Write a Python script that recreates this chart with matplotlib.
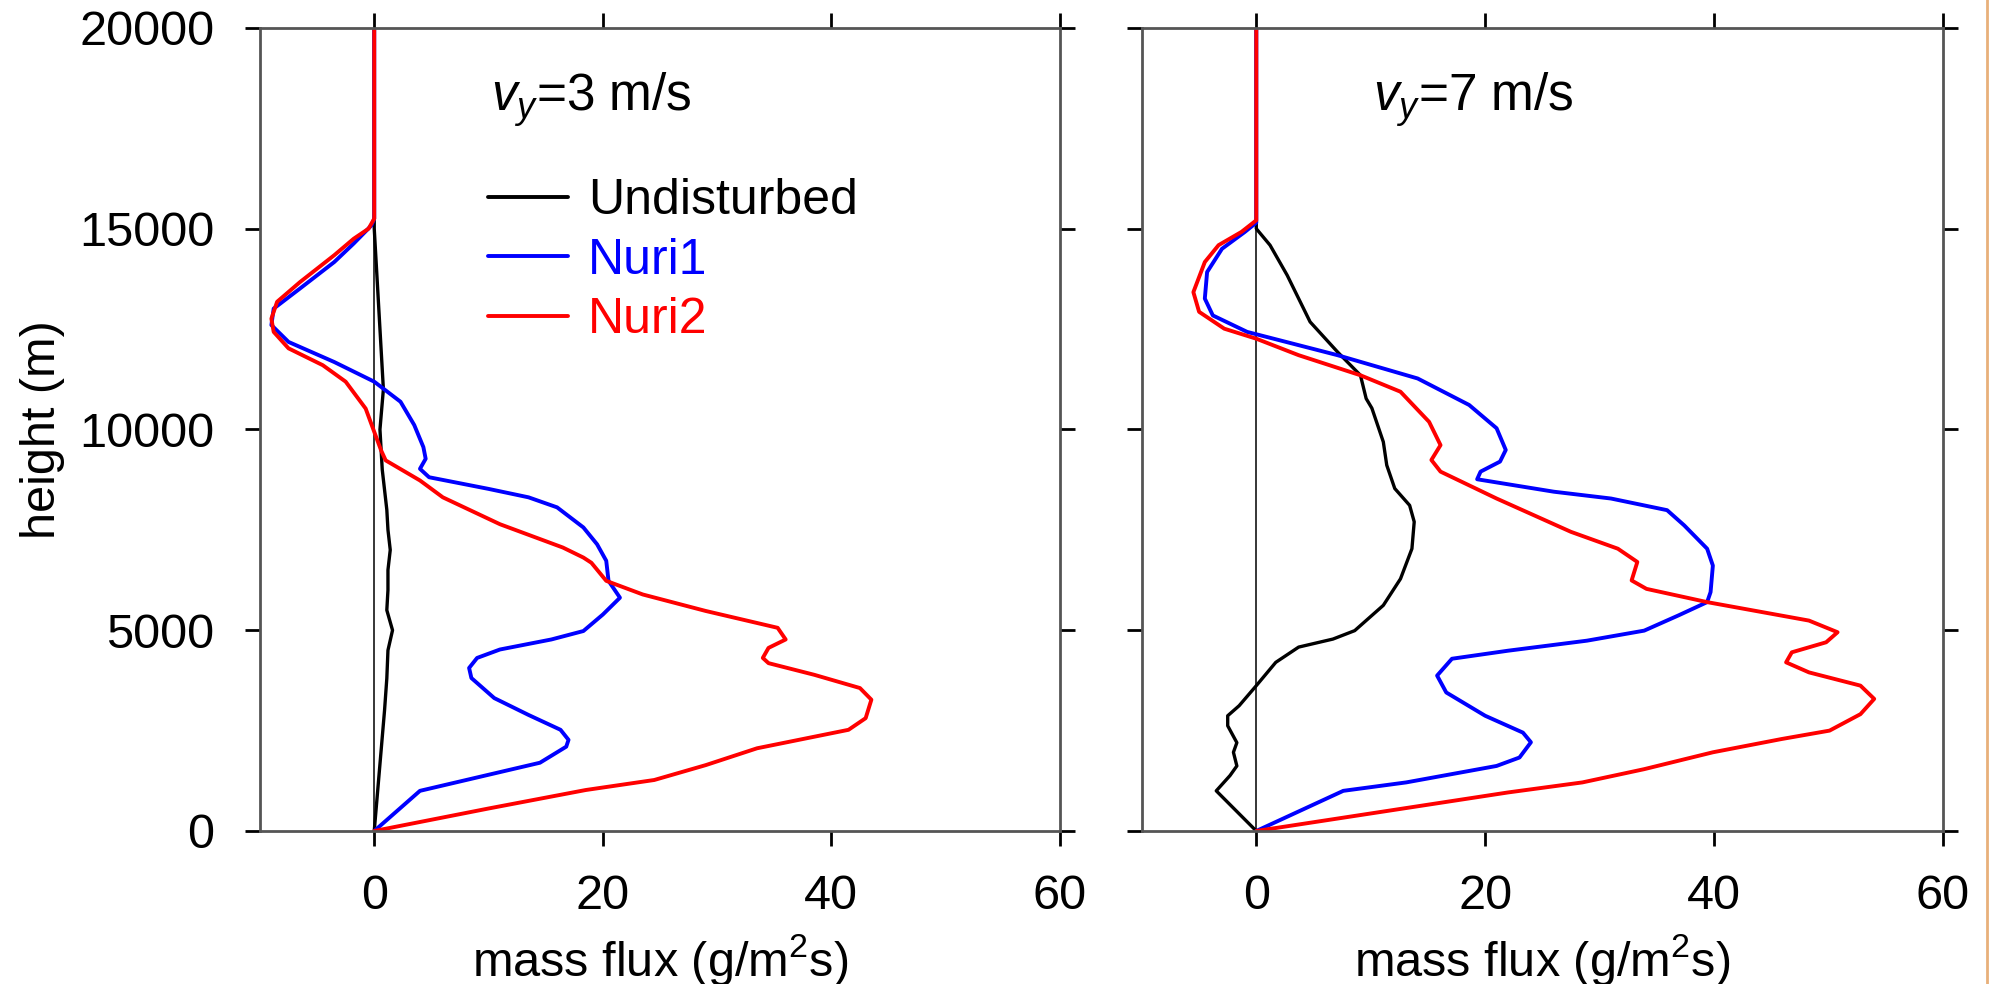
import matplotlib
matplotlib.use("Agg")
import matplotlib.pyplot as plt
from matplotlib.lines import Line2D

plt.rcParams['font.family'] = ['Liberation Sans', 'DejaVu Sans']
plt.rcParams['mathtext.fontset'] = 'custom'
plt.rcParams['mathtext.rm'] = 'Liberation Sans'
plt.rcParams['mathtext.it'] = 'Liberation Sans:italic'

# ---------------- data ----------------
series_names = ["Undisturbed", "Nuri1", "Nuri2"]
panel_titles = [r"$v_y$=3 m/s", r"$v_y$=7 m/s"]
x_ticks = [0, 20, 40, 60]
y_ticks = [0, 5000, 10000, 15000, 20000]

# panel 1 (vy = 3 m/s)
p1_und_h = [0, 1000, 2000, 3000, 3800, 4500, 5000, 5500, 6000, 6500, 7000, 7500, 8000,
            8500, 9000, 10000, 11000, 12000, 13000, 14000, 15000, 20000]
p1_und_x = [0, 0.3, 0.6, 0.9, 1.1, 1.2, 1.6, 1.1, 1.2, 1.2, 1.4, 1.2, 1.1,
            0.9, 0.7, 0.5, 0.8, 0.6, 0.4, 0.2, 0, 0]

p1_n1_h = [0, 1000, 1700, 2100, 2270, 2520, 2890, 3310, 3810, 4060, 4310, 4520, 4770,
           4980, 5390, 5810, 6230, 6730, 7140, 7560, 8060, 8310, 8520, 8810, 9020, 9270,
           9560, 10110, 10690, 11190, 11680, 12180, 12600, 13010, 13510, 14170, 14630,
           15080, 15250, 20000]
p1_n1_x = [0, 4.0, 14.5, 16.8, 17.0, 16.3, 13.5, 10.5, 8.5, 8.3, 9.0, 11.0, 15.5,
           18.3, 20.0, 21.5, 20.5, 20.3, 19.5, 18.3, 16.0, 13.5, 10.0, 4.8, 4.0, 4.5,
           4.3, 3.5, 2.3, 0, -3.5, -7.5, -9.0, -8.8, -6.5, -3.5, -1.8,
           -0.25, 0, 0]

p1_n2_h = [0, 560, 1020, 1270, 1640, 2060, 2520, 2810, 3270, 3560, 3890, 4180, 4310,
           4560, 4770, 5060, 5480, 5890, 6230, 6680, 6810, 7060, 7640, 8310, 8730, 9230,
           9480, 9940, 10520, 11190, 11600, 12020, 12430, 12760, 13180, 13670, 14340,
           14750, 15000, 15250, 20000]
p1_n2_x = [0, 10, 18.5, 24.5, 29, 33.5, 41.5, 43, 43.5, 42.5, 38.5, 34.5, 34,
           34.5, 36, 35.3, 29, 23.5, 20.3, 19, 18.3, 16.5, 11, 6, 4, 1,
           0.6, 0, -0.75, -2.5, -4.5, -7.5, -8.8, -9.0, -8.5, -6.5, -3.5,
           -1.8, -0.5, 0, 0]

# panel 2 (vy = 7 m/s)
p2_und_h = [0, 1000, 1380, 1620, 1960, 2200, 2620, 2870, 3120, 3620, 4200, 4580, 4780,
            4990, 5620, 6280, 7030, 7700, 8110, 8530, 9110, 9690, 10530, 10770, 11350,
            11930, 12680, 13840, 14590, 15000, 20000]
p2_und_x = [0, -3.5, -2.3, -1.7, -2.0, -1.7, -2.5, -2.5, -1.5, 0, 1.7, 3.7, 6.7,
            8.6, 11.1, 12.6, 13.6, 13.8, 13.4, 12.1, 11.4, 11.1, 10.1, 9.6, 9.1,
            7.1, 4.7, 2.7, 1.2, 0, 0]

p2_n1_h = [0, 1000, 1210, 1620, 1830, 2210, 2450, 2870, 3450, 3870, 4290, 4490, 4740,
           4990, 5370, 5700, 5950, 6610, 7030, 7610, 7990, 8280, 8450, 8760, 8950, 9200,
           9490, 10030, 10610, 11270, 11850, 12430, 12840, 13260, 13920, 14500, 14920,
           15150, 20000]
p2_n1_x = [0, 7.6, 13.1, 21.0, 23.0, 24.0, 23.3, 20.0, 16.6, 15.8, 17.1, 22.0, 28.9,
           33.9, 36.9, 39.4, 39.7, 39.9, 39.4, 37.4, 35.9, 31.0, 26.0, 19.3, 19.6, 21.3,
           21.8, 21.0, 18.6, 14.1, 7.1, -0.8, -3.8, -4.5, -4.3, -3.0, -1.0,
           0, 0]

p2_n2_h = [0, 960, 1210, 1540, 1960, 2290, 2500, 2910, 3290, 3620, 3950, 4200, 4450,
           4700, 4950, 5240, 5700, 6030, 6240, 6700, 7030, 7450, 8280, 8950, 9240, 9610,
           10190, 10940, 11350, 11850, 12260, 12510, 12930, 13420, 14170, 14590, 14920,
           15210, 20000]
p2_n2_x = [0, 22.0, 28.5, 33.9, 39.9, 45.9, 50.1, 52.8, 54.0, 52.8, 48.3, 46.3, 46.8,
           49.8, 50.8, 48.3, 39.4, 34.1, 32.8, 33.3, 31.6, 27.5, 21.0, 16.1, 15.3, 16.1,
           15.1, 12.6, 9.1, 3.7, 0, -2.8, -5.0, -5.5, -4.5, -3.3, -1.3,
           0, 0]

colors = ["#000000", "#0000ff", "#ff0000"]
widths = [2.4, 2.8, 2.8]

panels = [
    [(p1_und_x, p1_und_h), (p1_n1_x, p1_n1_h), (p1_n2_x, p1_n2_h)],
    [(p2_und_x, p2_und_h), (p2_n1_x, p2_n1_h), (p2_n2_x, p2_n2_h)],
]

# ---------------- figure ----------------
fig = plt.figure(figsize=(19.89, 9.84), dpi=100)
ax1 = fig.add_axes([0.1307, 0.1555, 0.4022, 0.8161])
ax2 = fig.add_axes([0.5741, 0.1555, 0.4027, 0.8161])

FS = 35
for i, ax in enumerate([ax1, ax2]):
    ax.axvline(0, color='black', lw=1.1, zorder=1)
    for (xs, hs), c, w, name in zip(panels[i], colors, widths, series_names):
        ax.plot(xs, hs, color=c, lw=w, label=name, solid_joinstyle='round',
                solid_capstyle='round', zorder=2)
    ax.set_xlim(-10, 60)
    ax.set_ylim(0, 20000)
    ax.set_xticks(x_ticks)
    ax.set_yticks(y_ticks)
    ax.tick_params(axis='both', which='both', direction='out', length=11, width=2.0,
                   color='black', labelsize=FS, top=True, right=True,
                   left=True, bottom=True)
    ax.tick_params(axis='x', pad=20)
    ax.tick_params(axis='y', pad=22)
    for sp in ax.spines.values():
        sp.set_linewidth(2.0)
        sp.set_color('#555555')
    ax.set_xlabel("mass flux (g/m$^2$s)", fontsize=FS, labelpad=9)
    ax.text(10.2, 17950, panel_titles[i], fontsize=37, ha='left', va='baseline')

ax2.tick_params(axis='y', labelleft=False)
ax1.set_ylabel("height (m)", fontsize=FS, labelpad=10)

leg = ax1.legend(loc='upper left', bbox_to_anchor=(0.285, 0.813), frameon=False,
                 fontsize=36, handlelength=1.6, handletextpad=0.4,
                 labelspacing=0.27, borderpad=0, borderaxespad=0,
                 labelcolor='linecolor')
for ln in leg.get_lines():
    ln.set_linewidth(2.8)

# thin orange border on right edge
fig.add_artist(Line2D([0.999, 0.999], [0, 1], transform=fig.transFigure,
                      color='#e8b07a', lw=2))

fig.savefig("out.png", dpi=100)
